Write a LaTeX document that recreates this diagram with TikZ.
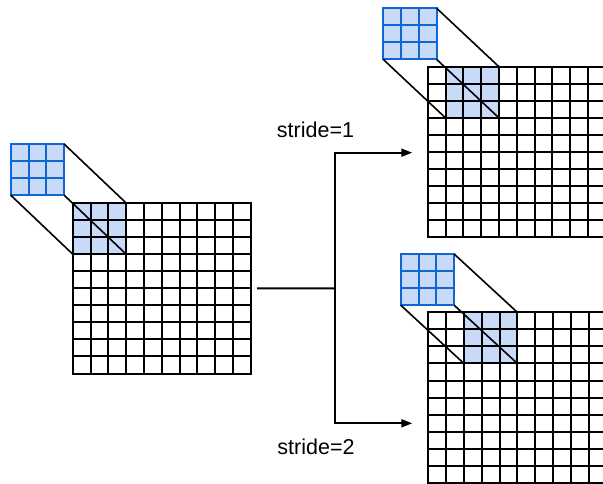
\documentclass[tikz,border=0pt]{standalone}
\usepackage{fontspec}
\setmainfont{Liberation Sans}
\usetikzlibrary{arrows.meta}
\definecolor{kblue}{RGB}{17,102,214}
\definecolor{kfill}{RGB}{201,218,248}

\begin{document}
\begin{tikzpicture}[x=1pt, y=-1pt]
  \tikzstyle{grid} = [rectangle, draw, anchor=north west, inner sep=0pt, outer sep=0pt, minimum width=178pt, minimum height=170.5pt, line width=2pt]
  \tikzstyle{patch} = [rectangle, fill=kfill, anchor=north west, inner sep=0pt, outer sep=0pt, minimum width=53.4pt, minimum height=51.15pt]
  \tikzstyle{kernel} = [patch, draw=kblue, line width=2pt]
  \tikzstyle{cellline} = [line width=2pt]
  \tikzstyle{link} = [line width=1.6pt]
  \tikzstyle{arrow} = [-{Triangle[length=11pt, width=8pt]}, line width=1.8pt]
  \tikzstyle{stride} = [font=\fontsize{21.5}{26}\selectfont]

  \useasboundingbox (0,0) rectangle (603,484);

  % highlighted windows
  \node [patch] at (72.7,203) (r1) {};
  \node [patch] at (445.5,66.7) (r2) {};
  \node [patch] at (463.9,312.3) (r3) {};

  % feature maps
  \node [grid] at (72.7,203) (input) {};
  \node [grid] at (427.7,66.7) (out1) {};
  \node [grid] at (428.3,312.3) (out2) {};

  \foreach \g in {input, out1, out2} {
    \foreach \i in {1,...,9} {
      \draw[cellline] ([xshift=\i*17.8pt]\g.north west) -- ([xshift=\i*17.8pt]\g.south west);
      \draw[cellline] ([yshift=-\i*17.05pt]\g.north west) -- ([yshift=-\i*17.05pt]\g.north east);
    }
  }

  % kernels
  \node [kernel] at (10.7,144) (k1) {};
  \node [kernel] at (383.3,8.3) (k2) {};
  \node [kernel] at (400.7,254) (k3) {};

  \foreach \k in {k1, k2, k3} {
    \foreach \i in {1,2} {
      \draw[cellline, kblue] ([xshift=\i*17.8pt]\k.north west) -- ([xshift=\i*17.8pt]\k.south west);
      \draw[cellline, kblue] ([yshift=-\i*17.05pt]\k.north west) -- ([yshift=-\i*17.05pt]\k.north east);
    }
  }

  \foreach \k/\r in {k1/r1, k2/r2, k3/r3} {
    \draw[link] (\k.north east) -- (\r.north east);
    \draw[link] (\k.south west) -- (\r.south west);
    \draw[link] (\k.south east) -- (\r.south east);
  }

  % branches
  \coordinate (split) at (335,288.3);
  \coordinate (tip1) at (412.3,152.7);
  \coordinate (tip2) at (412.3,423.3);
  \draw[cellline, shorten <=6.5pt] (input.east) -- (split);
  \draw[arrow] (split) |- (tip1);
  \draw[arrow] (split) |- (tip2);

  \node[stride] (lbl1) at (315.5,130) {stride=1};
  \node[stride] (lbl2) at (316,446.7) {stride=2};
\end{tikzpicture}
\end{document}
